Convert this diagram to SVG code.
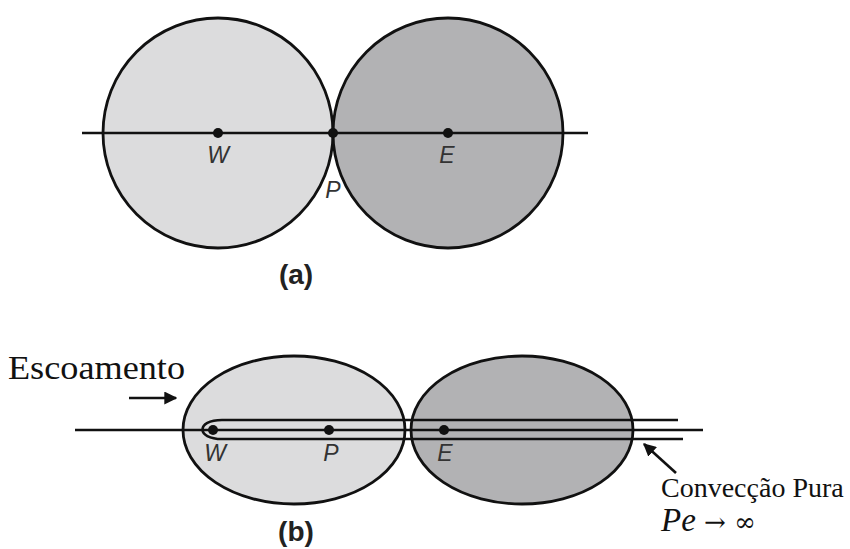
<svg xmlns="http://www.w3.org/2000/svg" width="850" height="549" viewBox="0 0 850 549">
<defs>
<style>
.light{fill:#dcdcdd;stroke:#111;stroke-width:2.8}
.dark{fill:#b2b2b4;stroke:#111;stroke-width:2.8}
.ln{fill:none;stroke:#111;stroke-width:2.6}
.dot{fill:#111}
.lbl{font-family:"Liberation Sans",Arial,sans-serif;font-style:italic;font-size:23px;fill:#333;text-anchor:middle}
.cap{font-family:"Liberation Sans",Arial,sans-serif;font-weight:bold;font-size:28px;fill:#222;text-anchor:middle}
.serif{font-family:"Liberation Serif","Times New Roman",serif;font-size:33px;fill:#111}
.serif28{font-family:"Liberation Serif","Times New Roman",serif;font-size:28px;fill:#111}
</style>
<marker id="ah" viewBox="0 0 10 10" refX="9" refY="5" markerWidth="5" markerHeight="5" orient="auto" markerUnits="strokeWidth">
<path d="M0,0 L10,5 L0,10 Z" fill="#111"/>
</marker>
</defs>
<rect width="850" height="549" fill="#fff"/>

<!-- (a) -->
<g id="cellW_a"><circle class="light" cx="218" cy="133" r="115"/></g>
<g id="cellE_a"><circle class="dark" cx="448" cy="133" r="115"/></g>
<g id="connectors_a">
<line class="ln" x1="82" y1="133" x2="588" y2="133"/>
</g>
<g id="nodeW_a"><circle class="dot" cx="218" cy="133" r="5"/><text class="lbl" x="218" y="163">W</text></g>
<g id="nodeP_a"><circle class="dot" cx="333" cy="133" r="5"/><text class="lbl" x="333" y="198">P</text></g>
<g id="nodeE_a"><circle class="dot" cx="448" cy="133" r="5"/><text class="lbl" x="447" y="163">E</text></g>
<g id="label_a"><text class="cap" x="296" y="284">(a)</text></g>

<!-- (b) -->
<g id="cellW_b"><ellipse class="light" cx="294" cy="430" rx="111" ry="74"/></g>
<g id="cellE_b"><ellipse class="dark" cx="522" cy="430" rx="111" ry="74"/></g>
<g id="connectors_b">
<line class="ln" x1="75" y1="430" x2="703" y2="430"/>
<path class="ln" d="M678,420 H222 C196,420 196,439 222,439 H683"/>
<line class="ln" x1="129" y1="398" x2="176" y2="398" marker-end="url(#ah)"/>
<line class="ln" x1="676" y1="473" x2="644" y2="444" marker-end="url(#ah)"/>
</g>
<g id="nodeW_b"><circle class="dot" cx="213" cy="430" r="5"/><text class="lbl" x="215" y="461">W</text></g>
<g id="nodeP_b"><circle class="dot" cx="329" cy="430" r="5"/><text class="lbl" x="331" y="461">P</text></g>
<g id="nodeE_b"><circle class="dot" cx="444" cy="430" r="5"/><text class="lbl" x="445" y="461">E</text></g>
<g id="label_b"><text class="cap" x="296" y="541">(b)</text></g>

<g id="escoamento"><text class="serif" x="8" y="379" textLength="177" lengthAdjust="spacingAndGlyphs">Escoamento</text></g>
<g id="conveccao">
<text class="serif28" x="661" y="497">Convecção Pura</text>
<text class="serif" x="661" y="531"><tspan font-style="italic">Pe</tspan><tspan font-family="'DejaVu Serif',serif" font-size="26"> → ∞</tspan></text>
</g>
</svg>
